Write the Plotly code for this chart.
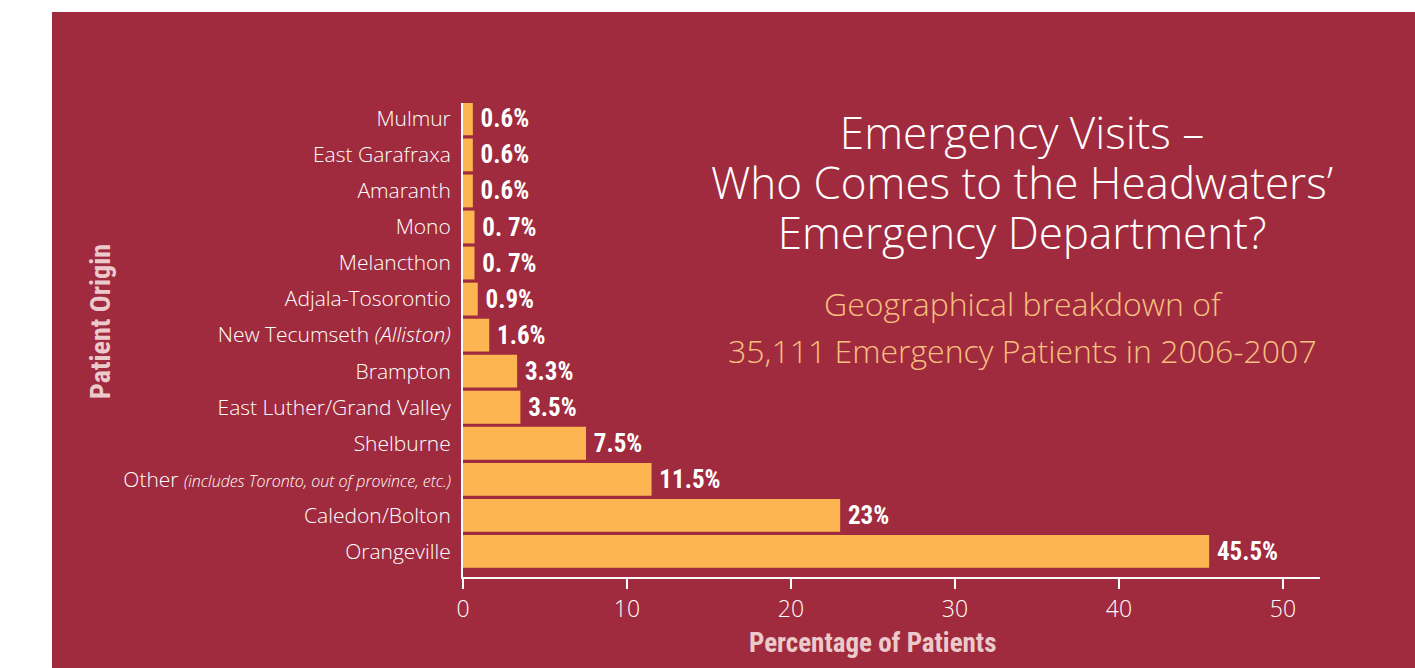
import plotly.graph_objects as go

categories = [
    "Orangeville",
    "Caledon/Bolton",
    "Other <i><span style='font-size:16px'>(includes Toronto, out of province, etc.)</span></i>",
    "Shelburne",
    "East Luther/Grand Valley",
    "Brampton",
    "New Tecumseth <i>(Alliston)</i>",
    "Adjala-Tosorontio",
    "Melancthon",
    "Mono",
    "Amaranth",
    "East Garafraxa",
    "Mulmur",
]
values = [45.5, 23, 11.5, 7.5, 3.5, 3.3, 1.6, 0.9, 0.7, 0.7, 0.6, 0.6, 0.6]
value_labels = ["45.5%", "23%", "11.5%", "7.5%", "3.5%", "3.3%", "1.6%", "0.9%",
                "0. 7%", "0. 7%", "0.6%", "0.6%", "0.6%"]
x_ticks = [0, 10, 20, 30, 40, 50]
title_lines = ["Emergency Visits –", "Who Comes to the Headwaters’", "Emergency Department?"]
subtitle_lines = ["Geographical breakdown of", "35,111 Emergency Patients in 2006-2007"]

BG = "#a12b3e"
BAR = "#fcb550"
PINK = "#ecc9cb"
ORANGE = "#f7c07f"
LIGHT = "Open Sans"
COND = "Liberation Sans Narrow, Roboto Condensed, Arial Narrow, sans-serif"

W, H = 1415, 668
L, R, T, B = 463, 1320, 103, 577
pw = R - L
ph = B - T


def px_x(x):
    return (x - L) / pw


def px_y(y):
    return (B - y) / ph


fig = go.Figure()
fig.add_trace(go.Bar(
    y=list(range(len(categories))),
    x=values,
    orientation="h",
    marker=dict(color=BAR, line=dict(width=0)),
    width=0.91,
    text=["\u2009" + t for t in value_labels],
    textposition="outside",
    cliponaxis=False,
    textfont=dict(family=COND, size=25, color="white", weight="bold"),
    hoverinfo="skip",
))

fig.add_shape(type="rect", xref="paper", yref="paper",
              x0=px_x(52), x1=px_x(W), y0=px_y(H), y1=px_y(12),
              fillcolor=BG, line=dict(width=0), layer="below")

fig.update_layout(
    width=W, height=H,
    margin=dict(l=L, r=W - R, t=T, b=H - B, pad=0),
    paper_bgcolor="white",
    plot_bgcolor="rgba(0,0,0,0)",
    showlegend=False,
    font=dict(family=LIGHT, color="white"),
    xaxis=dict(
        range=[0, 52.26], tickvals=x_ticks, ticktext=[str(v) for v in x_ticks],
        showgrid=False, zeroline=False,
        showline=True, linecolor="white", linewidth=2,
        ticks="outside", ticklen=10, tickwidth=2, tickcolor="white",
        tickfont=dict(family=LIGHT, size=23, color="white", weight=300),
    ),
    yaxis=dict(
        range=[-0.71, 12.44],
        tickvals=list(range(len(categories))), ticktext=categories,
        showgrid=False, zeroline=False,
        showline=True, linecolor="white", linewidth=2,
        ticks="", ticklabelstandoff=6,
        tickfont=dict(family=LIGHT, size=21, color="white", weight=300),
    ),
)

fig.add_annotation(xref="paper", yref="paper", x=px_x(872), y=px_y(643),
                   xanchor="center", yanchor="middle",
                   text="Percentage of Patients", showarrow=False,
                   font=dict(family=COND, size=27, color=PINK, weight="bold"))

fig.add_annotation(xref="paper", yref="paper", x=px_x(100), y=px_y(322),
                   xanchor="center", yanchor="middle",
                   text="Patient Origin", showarrow=False, textangle=-90,
                   font=dict(family=COND, size=28, color=PINK, weight="bold"))

fig.add_annotation(xref="paper", yref="paper", x=px_x(1022), y=px_y(182),
                   xanchor="center", yanchor="middle", align="center",
                   text="<br>".join(f"<span style='font-size:44px'>{t}</span>" for t in title_lines),
                   showarrow=False,
                   font=dict(family=LIGHT, size=38.5, color="white", weight=300))

fig.add_annotation(xref="paper", yref="paper", x=px_x(1022), y=px_y(327),
                   xanchor="center", yanchor="middle", align="center",
                   text="<br>".join(f"<span style='font-size:32px'>{t}</span>" for t in subtitle_lines),
                   showarrow=False,
                   font=dict(family=LIGHT, size=36, color=ORANGE, weight=300))

fig.write_html("out.html", config={"displayModeBar": False},
               post_script="document.body.style.margin='0';")
